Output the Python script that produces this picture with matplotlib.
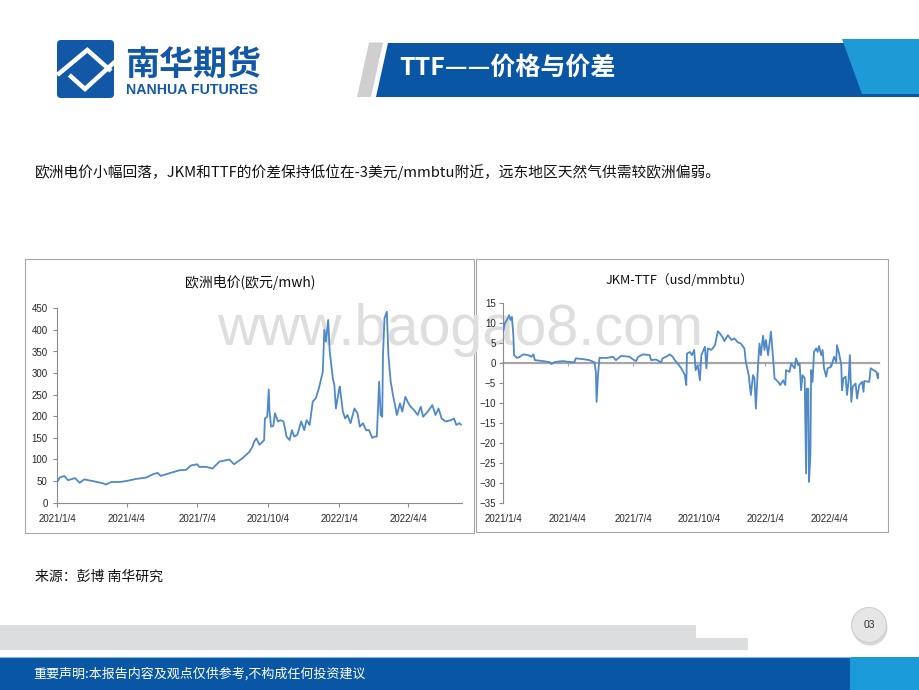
import matplotlib
matplotlib.use('Agg')
import matplotlib.pyplot as plt
import matplotlib.dates as mdates
from matplotlib.patches import Rectangle, Polygon, FancyBboxPatch, Circle
import pandas as pd

plt.rcParams['font.family'] = ['Noto Sans CJK SC', 'DejaVu Sans']

# ---------------- data ----------------
power_dates = [
    '2021-01-04', '2021-01-07', '2021-01-13', '2021-01-18', '2021-01-27', '2021-02-02', '2021-02-08',
    '2021-02-19', '2021-03-04', '2021-03-08', '2021-03-15', '2021-03-26', '2021-04-03', '2021-04-16',
    '2021-04-29', '2021-05-08', '2021-05-14', '2021-05-18', '2021-05-29', '2021-06-11', '2021-06-20',
    '2021-06-26', '2021-07-04', '2021-07-07', '2021-07-16', '2021-07-24', '2021-08-02', '2021-08-15',
    '2021-08-21', '2021-09-01', '2021-09-10', '2021-09-14', '2021-09-16', '2021-09-19', '2021-09-23',
    '2021-09-29', '2021-09-30', '2021-10-03', '2021-10-05', '2021-10-06', '2021-10-08', '2021-10-11',
    '2021-10-13', '2021-10-17', '2021-10-20', '2021-10-24', '2021-10-26', '2021-10-28', '2021-11-01',
    '2021-11-04', '2021-11-07', '2021-11-11', '2021-11-16', '2021-11-20', '2021-11-23', '2021-11-27',
    '2021-12-01', '2021-12-05', '2021-12-09', '2021-12-14', '2021-12-16', '2021-12-18', '2021-12-21',
    '2021-12-23', '2021-12-27', '2021-12-29', '2021-12-31', '2022-01-04', '2022-01-05', '2022-01-09',
    '2022-01-12', '2022-01-15', '2022-01-19', '2022-01-24', '2022-01-28', '2022-01-31', '2022-02-04',
    '2022-02-08', '2022-02-12', '2022-02-16', '2022-02-19', '2022-02-22', '2022-02-25', '2022-02-27',
    '2022-03-01', '2022-03-02', '2022-03-04', '2022-03-07', '2022-03-09', '2022-03-12', '2022-03-15',
    '2022-03-18', '2022-03-20', '2022-03-24', '2022-03-27', '2022-03-31', '2022-04-04', '2022-04-07',
    '2022-04-11', '2022-04-16', '2022-04-20', '2022-04-23', '2022-04-29', '2022-05-05', '2022-05-09',
    '2022-05-13', '2022-05-17', '2022-05-22', '2022-05-29', '2022-06-02', '2022-06-05', '2022-06-09',
    '2022-06-11']
power_values = [
    48, 58, 62, 52, 57, 46, 54,
    50, 45, 42, 48, 48, 50, 55,
    58, 66, 69, 62, 68, 75, 76,
    86, 89, 83, 83, 79, 95, 100,
    89, 103, 118, 130, 141, 149, 134,
    145, 195, 199, 262, 211, 176, 178,
    207, 188, 191, 188, 172, 153, 145,
    168, 153, 157, 188, 168, 191, 180,
    234, 242, 265, 303, 400, 373, 423,
    350, 288, 272, 218, 261, 269, 211,
    195, 203, 184, 218, 207, 176, 184,
    168, 168, 150, 153, 153, 280, 203,
    199, 342, 427, 442, 342, 280, 249,
    222, 203, 230, 211, 245, 230, 222,
    215, 203, 222, 199, 211, 226, 203,
    218, 195, 188, 191, 195, 180, 184,
    181]

spread_dates = [
    '2021-01-04', '2021-01-06', '2021-01-09', '2021-01-12', '2021-01-14', '2021-01-16', '2021-01-18',
    '2021-01-19', '2021-01-23', '2021-01-27', '2021-02-01', '2021-02-08', '2021-02-12', '2021-02-15',
    '2021-02-17', '2021-03-01', '2021-03-10', '2021-03-12', '2021-03-17', '2021-03-28', '2021-04-06',
    '2021-04-13', '2021-04-15', '2021-04-25', '2021-05-04', '2021-05-11', '2021-05-13', '2021-05-14',
    '2021-05-16', '2021-05-18', '2021-05-28', '2021-06-06', '2021-06-10', '2021-06-17', '2021-06-29',
    '2021-07-04', '2021-07-08', '2021-07-11', '2021-07-18', '2021-07-27', '2021-07-29', '2021-08-05',
    '2021-08-12', '2021-08-14', '2021-08-21', '2021-08-24', '2021-08-28', '2021-08-31', '2021-09-04',
    '2021-09-09', '2021-09-14', '2021-09-16', '2021-09-17', '2021-09-21', '2021-09-24', '2021-09-27',
    '2021-09-29', '2021-10-02', '2021-10-05', '2021-10-07', '2021-10-12', '2021-10-14', '2021-10-16',
    '2021-10-21', '2021-10-26', '2021-10-30', '2021-11-02', '2021-11-06', '2021-11-08', '2021-11-13',
    '2021-11-18', '2021-11-22', '2021-11-27', '2021-12-01', '2021-12-06', '2021-12-08', '2021-12-12',
    '2021-12-15', '2021-12-18', '2021-12-20', '2021-12-22', '2021-12-25', '2021-12-27', '2021-12-29',
    '2022-01-01', '2022-01-03', '2022-01-05', '2022-01-08', '2022-01-10', '2022-01-12', '2022-01-15',
    '2022-01-17', '2022-01-22', '2022-01-25', '2022-01-29', '2022-02-01', '2022-02-02', '2022-02-07',
    '2022-02-09', '2022-02-14', '2022-02-16', '2022-02-19', '2022-02-21', '2022-02-23', '2022-02-25',
    '2022-02-28', '2022-03-02', '2022-03-03', '2022-03-05', '2022-03-06', '2022-03-08', '2022-03-09',
    '2022-03-11', '2022-03-13', '2022-03-16', '2022-03-18', '2022-03-20', '2022-03-23', '2022-03-25',
    '2022-03-27', '2022-03-30', '2022-04-01', '2022-04-06', '2022-04-10', '2022-04-13', '2022-04-14',
    '2022-04-17', '2022-04-20', '2022-04-21', '2022-04-23', '2022-04-26', '2022-04-28', '2022-04-30',
    '2022-05-02', '2022-05-04', '2022-05-06', '2022-05-10', '2022-05-12', '2022-05-15', '2022-05-19',
    '2022-05-21', '2022-05-22', '2022-05-29', '2022-05-31', '2022-06-04', '2022-06-08', '2022-06-10',
    '2022-06-11']
spread_values = [
    7.9, 10.0, 10.8, 12.0, 10.8, 11.6, 7.0,
    2.0, 1.3, 1.6, 2.2, 2.0, 1.6, 2.2,
    0.75, 0.5, 0.2, -0.25, 0.3, 0.5, 0.3,
    0.2, 1.2, 1.0, 0.75, 0.2, -2.2, -9.7,
    -3.0, 1.3, 1.3, 1.6, 0.75, 1.8, 1.6,
    0.9, 0.5, 1.6, 2.2, 2.0, 0.75, 0.9,
    0.2, 1.2, 1.8, 2.2, 1.6, 0.75, -0.1,
    -1.3, -3.0, -5.5, 2.4, 2.8, 2.0, 3.3,
    -1.75, -0.5, -4.3, 2.0, 4.1, -1.3, 3.7,
    3.3, 4.5, 8.0, 7.4, 6.4, 5.5, 7.0,
    5.8, 6.2, 5.2, 4.9, 3.7, 0.3, -3.0,
    -8.0, -3.0, -3.8, -11.4, -0.5, 4.9, 2.0,
    6.9, 3.3, 5.8, 2.0, 4.9, 7.9, 1.2,
    -3.8, -4.7, -5.5, -4.3, -5.5, -1.75, -2.2,
    -0.1, -1.3, 1.2, -0.5, -0.1, -6.8, -3.0,
    -3.8, -27.7, -6.4, -6.4, -29.8, -23.0, -1.75,
    -4.7, 2.8, 3.7, 2.8, 4.3, 2.0, 3.3,
    -1.3, -3.4, -1.3, -0.9, 1.6, 0.3, 4.5,
    2.4, -0.5, -6.8, -3.8, -3.4, -8.0, -4.7,
    2.0, -9.7, -5.9, -5.1, -8.9, -5.5, -4.7,
    -7.2, -4.5, -4.7, -1.3, -1.75, -2.2, -3.8,
    -2.6]

xtick_dates = ['2021-01-04', '2021-04-04', '2021-07-04', '2021-10-04', '2022-01-04', '2022-04-04']
xtick_labels = ['2021/1/4', '2021/4/4', '2021/7/4', '2021/10/4', '2022/1/4', '2022/4/4']
power_yticks = [0, 50, 100, 150, 200, 250, 300, 350, 400, 450]
spread_yticks = [15, 10, 5, 0, -5, -10, -15, -20, -25, -30, -35]

title_text = 'TTF——价格与价差'
subtitle_text = '欧洲电价小幅回落，JKM和TTF的价差保持低位在-3美元/mmbtu附近，远东地区天然气供需较欧洲偏弱。'
power_title = '欧洲电价(欧元/mwh)'
spread_title = 'JKM-TTF（usd/mmbtu）'
source_text = '来源：彭博 南华研究'
footer_text = '重要声明:本报告内容及观点仅供参考,不构成任何投资建议'

# ---------------- styles ----------------
W, H = 920, 690
BLUE = '#0856A4'
LBLUE = '#1E9AD6'
LOGO = '#1358A6'
LINE = '#4F89C8'
AXC = '#8C8C8C'
TICKFONT = dict(family='Liberation Sans', size=7, color='#262626')

fig = plt.figure(figsize=(W / 100, H / 100), dpi=100)
bg = fig.add_axes([0, 0, 1, 1], zorder=-5)
bg.set_xlim(0, W)
bg.set_ylim(H, 0)
bg.axis('off')

# logo
sq = FancyBboxPatch((57, 40), 57, 58, boxstyle='round,pad=0,rounding_size=4',
                    fc=LOGO, ec='none')
bg.add_patch(sq)
for xs, ys in [([57.3, 87.3, 111], [75, 50, 71]), ([115, 85, 69.3], [61.7, 89, 75])]:
    ln, = bg.plot(xs, ys, color='white', lw=3.2, solid_capstyle='butt', solid_joinstyle='miter')
    ln.set_clip_path(sq)
bg.text(125, 64, '南华期货', fontsize=24.5, fontweight='bold', color=LOGO, ha='left', va='center')
bg.text(126, 90.5, 'NANHUA FUTURES', fontsize=10.2, fontweight='bold', color=LOGO,
        ha='left', va='center', family='Liberation Sans')

# title banner
bg.add_patch(Polygon([(369, 42.5), (383, 42.5), (371, 97), (357, 97)], closed=True,
                     fc='#CFCFCF', ec='none'))
bg.add_patch(Polygon([(388, 42.5), (920, 42.5), (920, 97), (376, 97)], closed=True,
                     fc=BLUE, ec='none'))
bg.add_patch(Polygon([(842, 39), (920, 39), (920, 94), (862, 94)], closed=True,
                     fc=LBLUE, ec='none'))
bg.text(399, 68, title_text, fontsize=18, fontweight='bold', color='white', ha='left', va='center')

# subtitle
bg.text(35, 172, subtitle_text, fontsize=10.6, color='#111111', ha='left', va='center')

# chart boxes
bg.add_patch(Rectangle((25.5, 259), 448.5, 273.5, fc='white', ec='#A6A6A6', lw=0.8))
bg.add_patch(Rectangle((476.5, 259), 412, 273, fc='white', ec='#A6A6A6', lw=0.8))
bg.text(250, 282, power_title, fontsize=10, color='#111111', ha='center', va='center')
bg.text(680, 281, spread_title, fontsize=9.2, color='#111111', ha='center', va='center')

# watermark
bg.text(216.7, 345, 'www.baogao8.com', family='Liberation Sans', fontsize=41.4,
        color='#DEDEDE', ha='left', va='baseline', zorder=10)

# source
bg.text(35, 577, source_text, fontsize=10, color='#111111', ha='left', va='center')

# footer decorations
bg.add_patch(Rectangle((0, 624.6), 696, 25.4, fc='#DCDDDE', ec='none'))
bg.add_patch(Rectangle((696, 637.5), 52, 12.5, fc='#DCDDDE', ec='none'))
bg.add_patch(Circle((870, 628), 17.5, fc='#BEBEBE', ec='none', alpha=0.6))
bg.add_patch(Circle((869, 625), 17.5, fc='#E6E6E6', ec='#CFCFCF', lw=0.8))
bg.text(869, 625, '03', fontsize=7.5, color='#333333', ha='center', va='center',
        family='Liberation Sans')
bg.add_patch(Rectangle((0, 657), 850, 33, fc=BLUE, ec='none'))
bg.add_patch(Rectangle((850, 657), 70, 33, fc='#1A9BD7', ec='none'))
bg.plot([0, 850], [656.5, 656.5], color='#7FB6E2', lw=0.8)
bg.text(33, 674, footer_text, fontsize=9.4, color='white', ha='left', va='center')

# ---------------- charts ----------------
xmin = pd.Timestamp('2021-01-04')
xmax = pd.Timestamp('2022-06-12')
tick_pos = pd.to_datetime(xtick_dates)

# left chart: European power price
ax1 = fig.add_axes([57.3 / W, 1 - 502.7 / H, (461.7 - 57.3) / W, (502.7 - 308.3) / H])
ax1.set_facecolor('none')
ax1.plot(pd.to_datetime(power_dates), power_values, color=LINE, lw=1.3, zorder=3)
ax1.set_xlim(xmin, xmax)
ax1.set_ylim(0, 450)
ax1.set_yticks(power_yticks)
ax1.set_xticks(tick_pos)
ax1.set_xticklabels(xtick_labels)
for s in ['top', 'right']:
    ax1.spines[s].set_visible(False)
for s in ['left', 'bottom']:
    ax1.spines[s].set_color(AXC)
    ax1.spines[s].set_linewidth(0.8)
ax1.tick_params(axis='both', direction='out', length=3, width=0.8, color=AXC)
ax1.tick_params(axis='x', pad=5)
ax1.tick_params(axis='y', pad=4)
for lab in ax1.get_xticklabels() + ax1.get_yticklabels():
    lab.set_fontfamily(TICKFONT['family'])
    lab.set_fontsize(TICKFONT['size'])
    lab.set_color(TICKFONT['color'])

# right chart: JKM-TTF spread
ax2 = fig.add_axes([503.3 / W, 1 - 502.7 / H, (879.3 - 503.3) / W, (502.7 - 303.3) / H])
ax2.set_facecolor('none')
ax2.plot(pd.to_datetime(spread_dates), spread_values, color=LINE, lw=1.3, zorder=3)
ax2.set_xlim(xmin, xmax)
ax2.set_ylim(-35, 15)
ax2.set_yticks(spread_yticks)
ax2.set_xticks(tick_pos)
ax2.tick_params(axis='x', labelbottom=False, direction='out', length=2.5, width=0.8, color='#A6A6A6')
for s in ['top', 'right']:
    ax2.spines[s].set_visible(False)
ax2.spines['bottom'].set_position(('data', 0))
ax2.spines['bottom'].set_color('#A6A6A6')
ax2.spines['bottom'].set_linewidth(1.6)
ax2.spines['bottom'].set_zorder(2)
ax2.spines['left'].set_color(AXC)
ax2.spines['left'].set_linewidth(0.8)
ax2.tick_params(axis='y', direction='out', length=3, width=0.8, color=AXC, pad=2.5)
for lab in ax2.get_yticklabels():
    lab.set_fontfamily(TICKFONT['family'])
    lab.set_fontsize(TICKFONT['size'])
    lab.set_color(TICKFONT['color'])

sec = ax2.secondary_xaxis(0)
sec.set_xticks(mdates.date2num(tick_pos.to_pydatetime()))
sec.set_xticklabels(xtick_labels)
sec.spines['bottom'].set_visible(False)
sec.tick_params(length=0, pad=8)
for lab in sec.get_xticklabels():
    lab.set_fontfamily(TICKFONT['family'])
    lab.set_fontsize(TICKFONT['size'])
    lab.set_color(TICKFONT['color'])

fig.savefig('out.png', dpi=100)
